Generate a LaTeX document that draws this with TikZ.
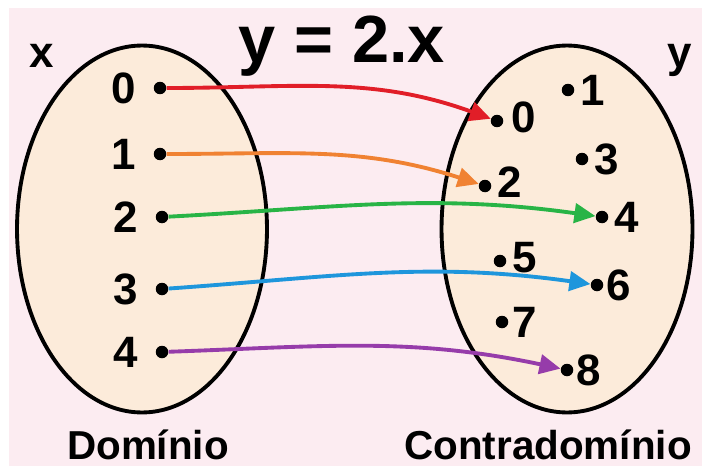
\documentclass[tikz,border=0pt]{standalone}
\usepackage{fontspec}
\setmainfont{Liberation Sans}
\usepackage{xcolor}
\usepackage{tikz}
\usetikzlibrary{positioning, arrows.meta}
\definecolor{bgpink}{HTML}{FCECF1}
\definecolor{setfill}{HTML}{FCEBDA}
\definecolor{mapred}{HTML}{E11E28}
\definecolor{maporange}{HTML}{F08232}
\definecolor{mapgreen}{HTML}{28B446}
\definecolor{mapblue}{HTML}{1E96DC}
\definecolor{mappurple}{HTML}{963CAA}

\begin{document}
\begin{tikzpicture}[
    x=0.02cm, y=-0.02cm,
    setbox/.style={draw=black, line width=2.2pt, fill=setfill},
    dot/.style={circle, fill=black, inner sep=0pt, minimum size=0.25cm},
    num/.style={font=\fontsize{25}{25}\selectfont\bfseries, inner sep=0pt},
    setname/.style={font=\fontsize{25}{25}\selectfont\bfseries, inner sep=0pt, anchor=base},
    caption/.style={font=\fontsize{23}{23}\selectfont\bfseries, inner sep=0pt, anchor=base},
    fmap/.style={line width=2.2pt, -{Triangle[length=12pt, width=11pt]}},
  ]

  % --- page and background ---
  \useasboundingbox (0,0) rectangle (709,466);
  \fill[white] (0,0) rectangle (709,466);
  \fill[bgpink] (9,8) rectangle (702,466);

  % --- the two sets ---
  \draw[setbox] (142,229) ellipse [x radius=2.5cm, y radius=3.67cm];
  \draw[setbox] (567,229) ellipse [x radius=2.51cm, y radius=3.67cm];

  % --- titles ---
  \node[font=\fontsize{38}{38}\selectfont\bfseries, inner sep=0pt, anchor=base] (rule) at (342,63) {y = 2.x};
  \node[setname] (xname) at (42,68) {x};
  \node[setname] (yname) at (680,68) {y};
  \node[caption] (dom) at (148,459) {Domínio};
  \node[caption] (cdom) at (548,459) {Contradomínio};

  % --- domain ---
  \node[dot] (ld0) at (160,88) {};
  \node[dot] (ld1) at (160,154) {};
  \node[dot] (ld2) at (162,217) {};
  \node[dot] (ld3) at (162,289) {};
  \node[dot] (ld4) at (162,352) {};
  \node[num, left=0.34cm of ld0] (lx0) {0};
  \node[num, left=0.34cm of ld1] (lx1) {1};
  \node[num, left=0.34cm of ld2] (lx2) {2};
  \node[num, left=0.34cm of ld3] (lx3) {3};
  \node[num, left=0.34cm of ld4] (lx4) {4};

  % --- codomain ---
  \node[dot] (rd0) at (497,121) {};
  \node[dot] (rd1) at (568,90) {};
  \node[dot] (rd2) at (485,186) {};
  \node[dot] (rd3) at (582,159) {};
  \node[dot] (rd4) at (602,217) {};
  \node[dot] (rd5) at (500,261) {};
  \node[dot] (rd6) at (597,285) {};
  \node[dot] (rd7) at (502,322) {};
  \node[dot] (rd8) at (567,370) {};
  \node[num, right=0.16cm of rd0, yshift=2pt] (ry0) {0};
  \node[num, right=0.12cm of rd1] (ry1) {1};
  \node[num, right=0.12cm of rd2, yshift=2pt] (ry2) {2};
  \node[num, right=0.12cm of rd3] (ry3) {3};
  \node[num, right=0.12cm of rd4] (ry4) {4};
  \node[num, right=0.12cm of rd5, yshift=2pt] (ry5) {5};
  \node[num, right=0.05cm of rd6] (ry6) {6};
  \node[num, right=0.08cm of rd7] (ry7) {7};
  \node[num, right=0.05cm of rd8] (ry8) {8};

  % --- y = 2x ---
  \draw[fmap, mapred]    (ld0) to[out=0, in=160] (rd0);
  \draw[fmap, maporange] (ld1) to[out=0, in=162] (rd2);
  \draw[fmap, mapgreen]  (ld2) to[out=3, in=172] (rd4);
  \draw[fmap, mapblue]   (ld3) to[out=4, in=172] (rd6);
  \draw[fmap, mappurple] (ld4) to[out=2, in=168] (rd8);

\end{tikzpicture}
\end{document}
